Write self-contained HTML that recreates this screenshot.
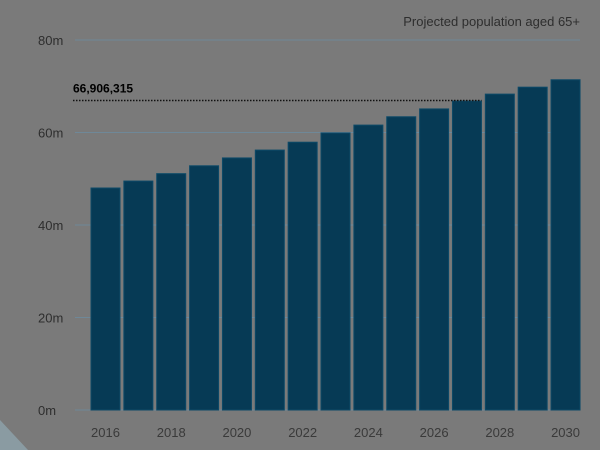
<!DOCTYPE html>
<html><head><meta charset="utf-8"><style>
html,body{margin:0;padding:0;background:#7a7a7a;}
svg{display:block;font-family:"Liberation Sans",sans-serif;}
</style></head><body>
<svg id="chart" width="600" height="450">
<rect width="600" height="450" fill="#7a7a7a"/>
<polygon points="0,420 0,450 28,450" fill="#8a9ba2"/>
<text x="580" y="26" text-anchor="end" font-size="13" fill="#2e2e2e">Projected population aged 65+</text>
<g id="grid"></g><g id="bars"></g><g id="xl"></g>
</svg>
<script>
const years=[2016,2017,2018,2019,2020,2021,2022,2023,2024,2025,2026,2027,2028,2029,2030];
const values=[48.0,49.5,51.1,52.8,54.5,56.2,57.9,59.9,61.6,63.4,65.1,66.8,68.3,69.8,71.4];
const yTicks=[0,20,40,60,80];
const yTickLabels=["0m","20m","40m","60m","80m"];
const xLabelYears=[2016,2018,2020,2022,2024,2026,2028,2030];
const refValue=66.906315;
const refLabel="66,906,315";
const NS="http://www.w3.org/2000/svg";
const y0=410,ppm=370/80,x0=91,pitch=32.86,bw=29;
const yS=v=>y0-v*ppm;
const xS=i=>x0+i*pitch;
function mk(t,a,p){const e=document.createElementNS(NS,t);for(const k in a)e.setAttribute(k,a[k]);p.appendChild(e);return e;}
const grid=document.getElementById('grid'),bars=document.getElementById('bars'),xl=document.getElementById('xl');
yTicks.forEach((t,i)=>{
 const l=mk('line',{x1:75,x2:580,y1:yS(t),y2:yS(t),stroke:'#6f8898','stroke-width':1},grid);
 
 
 const tx=mk('text',{x:38,y:yS(t)+5,'font-size':13,fill:'#2e2e2e'},grid);
 tx.textContent=yTickLabels[i];
 
 
});
values.forEach((v,i)=>{
 const r=mk('rect',{x:xS(i),y:yS(v),width:bw,height:y0-yS(v),fill:'#063a55',stroke:'#0d4a68','stroke-width':1},bars);
 
 
});
xLabelYears.forEach(yr=>{
 const i=years.indexOf(yr);
 const t=mk('text',{x:xS(i)+bw/2,y:437,'text-anchor':'middle','font-size':13,fill:'#3a3a3a'},xl);
 t.textContent=yr;
 
 
});
const ri=years.indexOf(2027);
const rl=mk('line',{x1:73,x2:xS(ri)+bw,y1:yS(refValue),y2:yS(refValue),stroke:'#111','stroke-width':1.5,'stroke-dasharray':'1.5,1.5'},bars);


const rt=mk('text',{x:73,y:yS(refValue)-8,'font-size':12,'font-weight':'bold',fill:'#000'},bars);
rt.textContent=refLabel;


</script>
</body></html>
